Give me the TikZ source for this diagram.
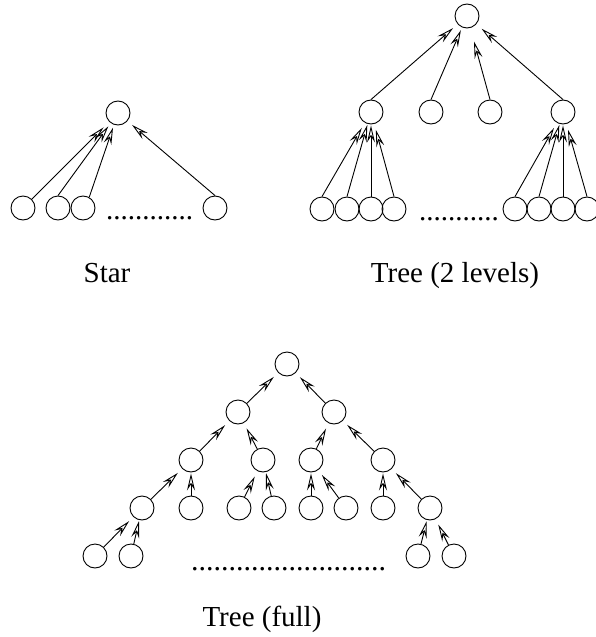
\documentclass[tikz,border=0pt]{standalone}
\usepackage{fontspec}
\setmainfont{Liberation Serif}
\usetikzlibrary{arrows.meta}
\begin{document}
\begin{tikzpicture}[x=1pt,y=-1pt,
  nd/.style={circle,draw,line width=0.9pt,minimum size=24pt,inner sep=0pt},
  arr/.style={line width=0.9pt,-{Stealth[open,length=17pt,width=8pt,inset=6pt,line width=0.9pt]}},
  far/.style={shorten >=6pt},
  near/.style={shorten >=1pt},
  lbl/.style={font=\fontsize{29}{32}\selectfont,inner sep=0pt,anchor=base},
  dots/.style={font=\fontsize{29}{32}\selectfont,inner sep=0pt,anchor=base west}]
\useasboundingbox (0,0) rectangle (596,637);
% ---------- Star ----------
\node[nd] (s0) at (118,113) {};
\node[nd] (s1) at (23,208) {};
\node[nd] (s2) at (58,208) {};
\node[nd] (s3) at (83,208) {};
\node[nd] (s4) at (215,208) {};
\draw[arr,shorten >=8pt] (s1) -- (s0);
\draw[arr,shorten >=4pt] (s2.north) -- (s0);
\draw[arr,shorten >=3pt] (s3.60) -- (s0);
\draw[arr,shorten >=6pt] (s4.north) -- (s0);
\node[dots] (sd) at (106,219) {............};
\node[lbl] (sl) at (107,282) {Star};
% ---------- Tree (2 levels) ----------
\node[nd] (r0) at (467,16) {};
\node[nd] (ra) at (371,112) {};
\node[nd] (rb) at (431,112) {};
\node[nd] (rc) at (490,112) {};
\node[nd] (rd) at (563,112) {};
\draw[arr,shorten >=6pt] (ra.north) -- (r0);
\draw[arr,shorten >=3pt] (rb.north) -- (r0);
\draw[arr,shorten >=14pt] (rc.north) -- (r0);
\draw[arr,shorten >=7pt] (rd.north) -- (r0);
\foreach \i/\x in {1/322,2/347,3/371,4/394}{\node[nd] (la\i) at (\x,209) {};}
\foreach \i/\x in {1/515,2/539,3/563,4/587}{\node[nd] (ld\i) at (\x,209) {};}
\draw[arr,shorten >=6pt] (la1.north) -- (ra);
\draw[arr,shorten >=1pt] (la2.north) -- (ra);
\draw[arr,shorten >=1pt] (la3.north) -- (ra);
\draw[arr,shorten >=6pt] (la4.north) -- (ra);
\draw[arr,shorten >=6pt] (ld1.north) -- (rd);
\draw[arr,shorten >=1pt] (ld2.north) -- (rd);
\draw[arr,shorten >=1pt] (ld3.north) -- (rd);
\draw[arr,shorten >=6pt] (ld4.north) -- (rd);
\node[dots] (rdots) at (419,220) {...........};
\node[lbl] (rl) at (455,282) {Tree (2 levels)};
% ---------- Tree (full) ----------
\node[nd] (f0) at (287,364) {};
\node[nd] (f1a) at (238,412) {};
\node[nd] (f1b) at (334,412) {};
\node[nd] (f2a) at (191,460) {};
\node[nd] (f2b) at (263,460) {};
\node[nd] (f2c) at (311,460) {};
\node[nd] (f2d) at (383,460) {};
\node[nd] (f3a) at (142,508) {};
\node[nd] (f3b) at (191,508) {};
\node[nd] (f3c) at (239,508) {};
\node[nd] (f3d) at (274,508) {};
\node[nd] (f3e) at (311,508) {};
\node[nd] (f3f) at (346,508) {};
\node[nd] (f3g) at (383,508) {};
\node[nd] (f3h) at (430,508) {};
\node[nd] (f4a) at (95,556) {};
\node[nd] (f4b) at (131,556) {};
\node[nd] (f4c) at (418,556) {};
\node[nd] (f4d) at (454,556) {};
\draw[arr,far] (f1a) -- (f0);
\draw[arr,far] (f1b) -- (f0);
\draw[arr,far] (f2a) -- (f1a);
\draw[arr,far] (f2b) -- (f1a);
\draw[arr,far] (f2c) -- (f1b);
\draw[arr,far] (f2d) -- (f1b);
\draw[arr,far] (f3a) -- (f2a);
\draw[arr,near] (f3b) -- (f2a);
\draw[arr,far] (f3c) -- (f2b);
\draw[arr,near] (f3d) -- (f2b);
\draw[arr,near] (f3e) -- (f2c);
\draw[arr,far] (f3f) -- (f2c);
\draw[arr,near] (f3g) -- (f2d);
\draw[arr,far] (f3h) -- (f2d);
\draw[arr,far] (f4a) -- (f3a);
\draw[arr,near] (f4b) -- (f3a);
\draw[arr,near] (f4c) -- (f3h);
\draw[arr,far] (f4d) -- (f3h);
\node[dots,font=\fontsize{30}{32}\selectfont] (fdots) at (191,570) {..........................};
\node[lbl] (fl) at (262,626) {Tree (full)};
\end{tikzpicture}
\end{document}
